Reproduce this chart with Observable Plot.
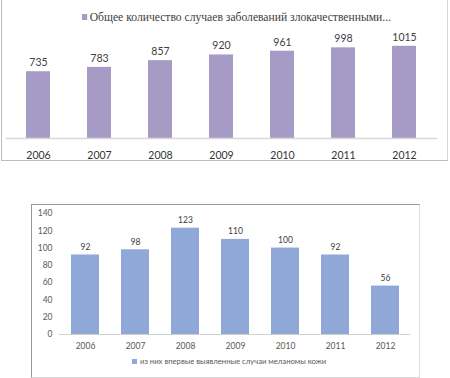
<!DOCTYPE html>
<html>
<head>
<meta charset="utf-8">
<script src="https://cdn.jsdelivr.net/npm/d3@7"></script>
<script src="https://cdn.jsdelivr.net/npm/@observablehq/plot@0.6"></script>
<style>
  html, body { margin: 0; padding: 0; background: #fff; }
  #wrap { position: relative; width: 450px; height: 378px; overflow: hidden; }
  .box { position: absolute; box-sizing: border-box; }
  .chart { position: absolute; }
  .legend { position: absolute; white-space: nowrap; display: flex; align-items: center; }
  .legend .sw { display: inline-block; }
</style>
</head>
<body>
<div id="wrap">
  <div class="box" style="left:1px;top:0;width:447px;height:161px;border-left:1px solid #bdbdbd;border-right:1px solid #d4d4d4;border-bottom:1px solid #bdbdbd;"></div>
  <div class="box" style="left:31px;top:204px;width:389px;height:174px;border-left:1px solid #9a9a9a;border-top:1px solid #9a9a9a;border-right:1px solid #dcdcdc;border-bottom:1px solid #dcdcdc;"></div>
  <div id="top" class="chart" style="left:0;top:0;"></div>
  <div id="bottom" class="chart" style="left:31px;top:204px;"></div>
  <div id="legTop" class="legend" style="left:82px;top:9px;font-family:'Liberation Serif',serif;font-size:13.5px;color:#404040;transform:scaleX(0.86);transform-origin:left center;"></div>
  <div id="legBot" class="legend" style="left:132px;top:356px;font-family:Lato,sans-serif;font-size:7.7px;color:#595959;"></div>
</div>
<script>
const years = ["2006", "2007", "2008", "2009", "2010", "2011", "2012"];
const totalCases = [735, 783, 857, 920, 961, 998, 1015];
const melanomaCases = [92, 98, 123, 110, 100, 92, 56];
const melanomaTicks = [0, 20, 40, 60, 80, 100, 120, 140];
const totalLabel = "Общее количество случаев заболеваний злокачественными...";
const melanomaLabel = "из них впервые выявленные случаи меланомы кожи";

const purple = "#a59bc5";
const blue = "#8fa8d8";

const topData = years.map((y, i) => ({year: y, value: totalCases[i]}));
const botData = years.map((y, i) => ({year: y, value: melanomaCases[i]}));

const topChart = Plot.plot({
  width: 450, height: 160,
  marginLeft: 6, marginRight: 13, marginTop: 29, marginBottom: 22,
  style: {fontFamily: "Lato, sans-serif", background: "transparent"},
  x: {domain: years, paddingInner: 0.6, paddingOuter: 0.33, label: null},
  y: {domain: [0, 1200], axis: null},
  marks: [
    Plot.barY(topData, {x: "year", y: "value", fill: purple}),
    Plot.ruleY([0], {stroke: "#d9d9d9", strokeWidth: 1.5}),
    Plot.text(topData, {x: "year", y: "value", text: d => String(d.value), dy: -9, fontSize: 10.5, fill: "#404040"}),
    Plot.axisX({tickSize: 0, tickPadding: 13, fontSize: 10.5, color: "#333", label: null})
  ]
});
document.getElementById("top").appendChild(topChart);

const botChart = Plot.plot({
  width: 388, height: 173,
  marginLeft: 28, marginRight: 9, marginTop: 9, marginBottom: 43,
  style: {fontFamily: "Lato, sans-serif", background: "transparent"},
  x: {domain: years, paddingInner: 0.44, paddingOuter: 0.23, label: null},
  y: {domain: [0, 140], label: null},
  marks: [
    Plot.barY(botData, {x: "year", y: "value", fill: blue}),
    Plot.ruleY([0], {stroke: "#d0d0d0", strokeWidth: 1}),
    Plot.ruleX([0], {frameAnchor: "left", stroke: "#d0d0d0"}),
    Plot.text(botData, {x: "year", y: "value", text: d => String(d.value), dy: -8, fontSize: 8.5, fill: "#404040"}),
    Plot.axisY({ticks: melanomaTicks, tickSize: 0, tickPadding: 7, fontSize: 8.5, color: "#595959", label: null}),
    Plot.axisX({tickSize: 0, tickPadding: 8, fontSize: 8.5, color: "#595959", label: null})
  ]
});
document.getElementById("bottom").appendChild(botChart);

function legend(el, color, label, size) {
  const sw = document.createElement("span");
  sw.className = "sw";
  sw.style.width = size + "px";
  sw.style.height = size + "px";
  sw.style.background = color;
  sw.style.marginRight = "3px";
  el.appendChild(sw);
  const t = document.createElement("span");
  t.textContent = label;
  el.appendChild(t);
}
legend(document.getElementById("legTop"), purple, totalLabel, 6);
legend(document.getElementById("legBot"), blue, melanomaLabel, 5);
</script>
</body>
</html>
